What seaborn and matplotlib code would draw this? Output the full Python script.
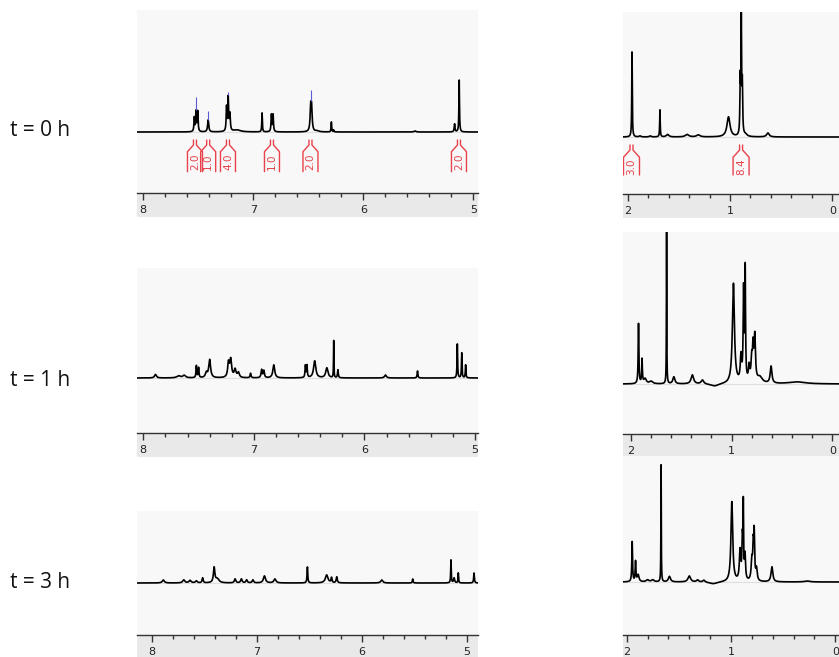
import numpy as np
import pandas as pd
import matplotlib.pyplot as plt
from matplotlib.ticker import MultipleLocator
import seaborn as sns

# peak tables
# shift = ppm, height = px above baseline, width = half width (ppm)

# t = 0 h, aromatic / vinyl region
L0_shift = [7.536, 7.520, 7.505, 7.410, 7.243, 7.228, 7.213, 7.15, 6.920, 6.835, 6.820,
            6.478, 6.470, 6.42, 6.290, 6.27, 5.530, 5.170, 5.128]
L0_height = [14, 20, 20, 12, 24, 33, 17, 2, 19, 17, 17, 22, 22, 1, 10, 2, 1, 8, 52]
L0_width = [0.004, 0.004, 0.004, 0.006, 0.004, 0.004, 0.005, 0.04, 0.003, 0.004, 0.004,
            0.006, 0.006, 0.02, 0.003, 0.003, 0.01, 0.004, 0.003]

# t = 1 h, aromatic / vinyl region
L1_shift = [7.89, 7.68, 7.63, 7.52, 7.50, 7.43, 7.40, 7.23, 7.21, 7.17, 7.14, 7.03, 6.93,
            6.91, 6.82, 6.534, 6.52, 6.45, 6.34, 6.278, 6.24, 5.81, 5.52, 5.16, 5.12, 5.085]
L1_height = [3.5, 2, 2.5, 12, 10, 5, 18, 14, 18, 8, 5, 4.5, 8, 7, 13, 12, 12, 17, 10, 37,
             8, 3, 7, 34, 25, 13]
L1_width = [0.01, 0.02, 0.015, 0.004, 0.004, 0.01, 0.01, 0.008, 0.01, 0.01, 0.01, 0.005,
            0.006, 0.006, 0.01, 0.004, 0.004, 0.012, 0.012, 0.002, 0.004, 0.01, 0.004,
            0.003, 0.003, 0.003]

# t = 3 h, aromatic / vinyl region
L3_shift = [7.895, 7.70, 7.64, 7.58, 7.52, 7.41, 7.38, 7.21, 7.15, 7.10, 7.04, 6.93, 6.83,
            6.52, 6.336, 6.29, 6.24, 5.81, 5.515, 5.15, 5.12, 5.08, 4.93]
L3_height = [3, 3, 2.5, 2, 5, 15, 4, 4, 4, 3, 3, 7, 4, 16, 8, 5, 6, 3, 4, 23, 5, 10, 10]
L3_width = [0.012, 0.012, 0.012, 0.01, 0.006, 0.008, 0.02, 0.008, 0.008, 0.008, 0.008,
            0.012, 0.012, 0.004, 0.015, 0.005, 0.006, 0.012, 0.004, 0.003, 0.006, 0.003, 0.004]

# t = 0 h, aliphatic region
R0_shift = [1.958, 1.88, 1.78, 1.685, 1.61, 1.42, 1.31, 1.015, 0.900, 0.890, 0.880, 0.85, 0.63]
R0_height = [85, 1, 1, 27, 2.5, 2.5, 2, 20, 55, 110, 50, 2, 4]
R0_width = [0.003, 0.01, 0.01, 0.003, 0.015, 0.02, 0.02, 0.018, 0.004, 0.003, 0.004, 0.02, 0.015]

# t = 1 h, aliphatic region
R1_shift = [1.925, 1.89, 1.86, 1.80, 1.646, 1.574, 1.39, 1.29, 1.17, 0.982, 0.907, 0.881,
            0.865, 0.826, 0.80, 0.787, 0.77, 0.72, 0.608, 0.35]
R1_height = [60, 24, 5, 2.5, 160, 7, 9, 4, -2.5, 100, 25, 90, 110, 15, 22, 30, 45, 6, 17, 2]
R1_width = [0.004, 0.004, 0.015, 0.02, 0.002, 0.012, 0.015, 0.015, 0.05, 0.012, 0.008,
            0.005, 0.004, 0.008, 0.008, 0.006, 0.008, 0.03, 0.01, 0.1]

# t = 3 h, aliphatic region
R3_shift = [1.947, 1.915, 1.89, 1.80, 1.75, 1.67, 1.59, 1.40, 1.32, 1.26, 1.17, 0.992, 0.913,
            0.891, 0.882, 0.866, 0.80, 0.787, 0.778, 0.756, 0.608, 0.27]
R3_height = [40, 20, 7, 2, 2, 117, 5.5, 6, 2, 2, -2, 80, 30, 40, 70, 25, 20, 30, 45, 12, 15, 1]
R3_width = [0.004, 0.004, 0.01, 0.015, 0.015, 0.002, 0.012, 0.015, 0.012, 0.012, 0.05, 0.01,
            0.008, 0.005, 0.003, 0.006, 0.008, 0.005, 0.005, 0.008, 0.01, 0.03]

# integrals (t = 0 h)
L0_int_center = [7.53, 7.41, 7.23, 6.83, 6.48, 5.13]
L0_int_value = ["2.0", "1.0", "4.0", "1.0", "2.0", "2.0"]
R0_int_center = [1.963, 0.892]
R0_int_value = ["3.0", "8.4"]

# peak picks (t = 0 h)
L0_pick_shift = [7.520, 7.410, 7.228, 6.474]
L0_pick_top = [35, 21, 40, 42]

left_ticks = [8, 7, 6, 5]
left_labels = ["8", "7", "6", "5"]
right_ticks = [2, 1, 0]
right_labels = ["2", "1", "0"]
time_labels = ["t = 0 h", "t = 1 h", "t = 3 h"]

sns.set_theme(style="white")
plt.rcParams["font.family"] = ["DejaVu Sans"]

W, H = 839, 657
fig = plt.figure(figsize=(W / 100, H / 100), dpi=100)


def px_axes(left, top, right, bottom):
    return fig.add_axes([left / W, 1 - bottom / H, (right - left) / W, (bottom - top) / H])


def lorentz(grid, shifts, heights, widths):
    y = np.zeros_like(grid)
    for s, h, w in zip(shifts, heights, widths):
        y += h * w ** 2 / ((grid - s) ** 2 + w ** 2)
    return y


# x0, x1, top, baseline, ruler line, xlim (all px except xlim)
panels = [
    (137, 478, 10, 132, 193, (8.057, 4.957), L0_shift, L0_height, L0_width, left_ticks, left_labels),
    (137, 478, 268, 378, 433, (8.057, 4.973), L1_shift, L1_height, L1_width, left_ticks, left_labels),
    (137, 478, 511, 583, 635, (8.146, 4.892), L3_shift, L3_height, L3_width, left_ticks, left_labels),
    (623, 839, 12, 137, 194, (2.046, -0.065), R0_shift, R0_height, R0_width, right_ticks, right_labels),
    (623, 839, 232, 384, 434, (2.079, -0.067), R1_shift, R1_height, R1_width, right_ticks, right_labels),
    (623, 839, 456, 582, 635, (2.035, -0.035), R3_shift, R3_height, R3_width, right_ticks, right_labels),
]

spec_axes = []
for x0, x1, top, base, line, xlim, sh, he, wi, ticks, labels in panels:
    ax = px_axes(x0, top, x1, line)
    ax.set_facecolor("#f8f8f8")
    grid = np.linspace(xlim[0], xlim[1], 9000)
    df = pd.DataFrame({"ppm": grid, "I": lorentz(grid, sh, he, wi)})
    ax.axhline(0, color="#dedede", lw=0.8, zorder=0)
    sns.lineplot(data=df, x="ppm", y="I", ax=ax, color="black", lw=1.2,
                 estimator=None, sort=False)
    ax.set_xlim(xlim)
    ax.set_ylim(-(line - base), base - top)
    ax.set_xticks([])
    ax.set_yticks([])
    ax.set_xlabel("")
    ax.set_ylabel("")
    for sp in ax.spines.values():
        sp.set_visible(False)
    spec_axes.append((ax, base))

    # ppm ruler
    bottom = min(line + 24, H)
    r = px_axes(x0, line, x1, bottom)
    r.set_facecolor("#e9e9e9")
    r.set_xlim(xlim)
    r.set_ylim(0, 1)
    for k in ["left", "right", "bottom"]:
        r.spines[k].set_visible(False)
    r.spines["top"].set_color("#333333")
    r.spines["top"].set_linewidth(1.0)
    r.set_xticks(ticks)
    r.xaxis.set_minor_locator(MultipleLocator(0.2))
    r.set_yticks([])
    r.tick_params(axis="x", which="both", top=True, bottom=False, labelbottom=False,
                  direction="in", color="#333333", width=1.0)
    r.tick_params(axis="x", which="major", length=5)
    r.tick_params(axis="x", which="minor", length=3)
    for v, lab in zip(ticks, labels):
        r.text(v, 1 - 17 / (bottom - line), lab, ha="center", va="center", fontsize=8,
               color="#222222", transform=r.get_xaxis_transform())

red = "#e8414b"


def integral(ax, base, c, val, ppm_px, ys, ytext, narrow=1.5, wide=7.5):
    n, w = narrow * ppm_px, wide * ppm_px
    yy = [base - y for y in ys]
    ax.plot([c + n, c + n, c + w, c + w], yy, color=red, lw=1.0)
    ax.plot([c - n, c - n, c - w, c - w], yy, color=red, lw=1.0)
    ax.text(c, base - ytext, val, rotation=90, ha="center", va="center", fontsize=7.5, color=red)


ax0, b0 = spec_axes[0]
for c, v in zip(L0_int_center, L0_int_value):
    integral(ax0, b0, c, v, 1 / 110, [140, 145, 151.7, 171.7], 161.7)
ax3, b3 = spec_axes[3]
for c, v in zip(R0_int_center, R0_int_value):
    integral(ax3, b3, c, v, 1 / 102.3, [145, 150, 157.3, 175], 166.7, wide=8)

# peak pick marks
g0 = np.linspace(8.057, 4.957, 9000)
y0 = lorentz(g0, L0_shift, L0_height, L0_width)
pick_low = np.interp(L0_pick_shift, g0[::-1], y0[::-1])
ax0.vlines(L0_pick_shift, pick_low, L0_pick_top, color="#5b5bd6", lw=0.8)

for lab, yc in zip(time_labels, [131, 381, 583]):
    fig.text(40 / W, 1 - yc / H, lab, ha="center", va="center", fontsize=15,
             family=["Open Sans", "DejaVu Sans"], color="#111111")

fig.savefig("out.png", dpi=100, facecolor="white")
